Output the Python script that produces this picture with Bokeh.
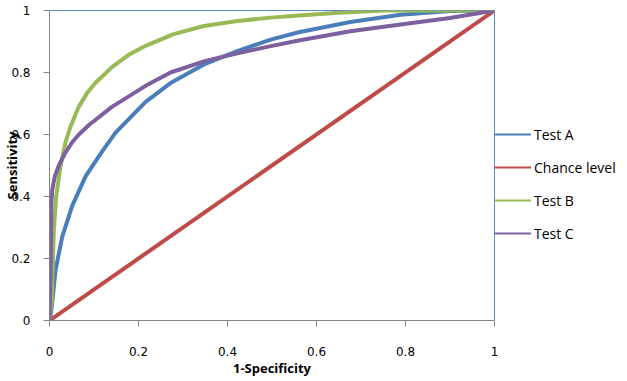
from bokeh.plotting import figure
from bokeh.models import Legend, LegendItem, FixedTicker, Range1d
from bokeh.embed import file_html
from bokeh.resources import INLINE

# ---- data ----
test_a_fpr = [0, 0.004, 0.007, 0.0097, 0.0135, 0.0285, 0.051, 0.081, 0.118, 0.148, 0.216, 0.272, 0.347, 0.422, 0.497, 0.560, 0.676, 0.789, 0.900, 1.0]
test_a_tpr = [0, 0.030, 0.070, 0.108, 0.162, 0.270, 0.370, 0.465, 0.545, 0.605, 0.705, 0.766, 0.826, 0.869, 0.906, 0.930, 0.963, 0.986, 0.998, 1.0]

chance_fpr = [0, 1]
chance_tpr = [0, 1]

test_b_fpr = [0, 0.005, 0.0097, 0.015, 0.025, 0.036, 0.047, 0.066, 0.085, 0.103, 0.141, 0.178, 0.216, 0.279, 0.347, 0.422, 0.497, 0.560, 0.650, 0.750, 1.0]
test_b_tpr = [0, 0.060, 0.290, 0.400, 0.500, 0.575, 0.625, 0.690, 0.735, 0.766, 0.818, 0.857, 0.886, 0.924, 0.950, 0.966, 0.977, 0.984, 0.993, 1.0, 1.0]

test_c_fpr = [0, 0.003, 0.004, 0.006, 0.012, 0.021, 0.035, 0.051, 0.066, 0.088, 0.141, 0.216, 0.272, 0.347, 0.422, 0.497, 0.560, 0.676, 0.789, 0.900, 1.0]
test_c_tpr = [0, 0.200, 0.370, 0.420, 0.465, 0.500, 0.540, 0.575, 0.600, 0.630, 0.690, 0.757, 0.800, 0.836, 0.862, 0.885, 0.903, 0.933, 0.955, 0.976, 1.0]

ticks = [0, 0.2, 0.4, 0.6, 0.8, 1]
series_names = ["Test A", "Chance level", "Test B", "Test C"]
colors = ["#4A7EBB", "#BE4B48", "#98B954", "#7D60A0"]

p = figure(frame_width=445, frame_height=310, output_backend="svg", toolbar_location=None,
           x_range=Range1d(0, 1), y_range=Range1d(0, 1),
           min_border_left=43, min_border_right=0, min_border_top=10, min_border_bottom=53)
p.background_fill_color = "white"
p.border_fill_color = "white"
p.outline_line_color = "#5B8CD0"
p.outline_line_width = 1
p.xgrid.visible = False
p.ygrid.visible = False

xs = [test_a_fpr, chance_fpr, test_b_fpr, test_c_fpr]
ys = [test_a_tpr, chance_tpr, test_b_tpr, test_c_tpr]
items = []
for name, c, x, y in zip(series_names, colors, xs, ys):
    p.line(x, y, line_color=c, line_width=4, line_join="round")
    dummy = p.line([float("nan")], [float("nan")], line_color=c, line_width=2)
    items.append(LegendItem(label=name, renderers=[dummy]))

for ax in (p.xaxis[0], p.yaxis[0]):
    ax.ticker = FixedTicker(ticks=ticks)
    ax.axis_line_color = "#868686"
    ax.axis_line_width = 1
    ax.major_tick_line_color = "#868686"
    ax.major_tick_out = 6
    ax.major_tick_in = 0
    ax.minor_tick_line_color = None
    ax.major_label_text_font = "DejaVu Sans"
    ax.major_label_text_font_size = "12px"
    ax.major_label_text_color = "black"
    ax.axis_label_text_font = "Open Sans"
    ax.axis_label_text_font_style = "bold"
    ax.axis_label_text_font_size = "13px"
    ax.axis_label_text_color = "black"

p.xaxis[0].major_label_overrides = {0: "0", 1: "1"}
p.yaxis[0].major_label_overrides = {0: "0", 1: "1"}
p.xaxis[0].major_label_standoff = 20
p.yaxis[0].major_label_standoff = 13
p.xaxis[0].axis_label = "1-Specificity"
p.xaxis[0].axis_label_standoff = 0
p.yaxis[0].axis_label = "Sensitivity"
p.yaxis[0].axis_label_standoff = -13

legend = Legend(items=items, location=(0, 77), orientation="vertical",
                border_line_color=None, background_fill_alpha=0,
                padding=0, margin=0, spacing=13,
                glyph_width=37, glyph_height=20, label_height=20,
                label_standoff=3, label_text_font="Open Sans",
                label_text_font_size="14px", label_text_color="black")
p.add_layout(legend, "right")

open("out.html", "w").write(file_html(p, INLINE))
